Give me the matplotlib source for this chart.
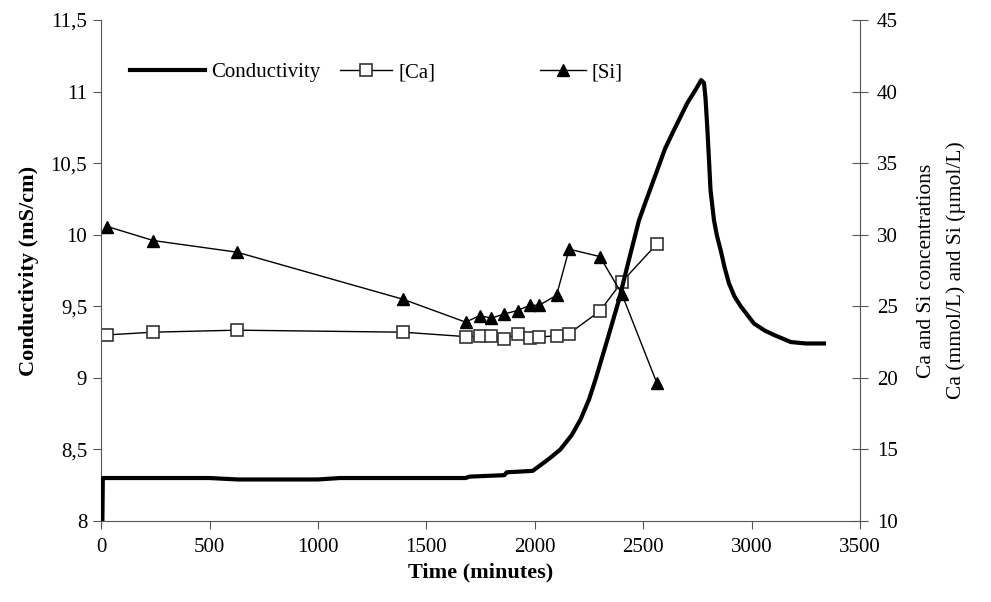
import matplotlib
matplotlib.use("Agg")
import matplotlib.pyplot as plt
from matplotlib.legend import Legend
from matplotlib.ticker import FuncFormatter

# conductivity trace (minutes, mS/cm)
cond_time = [0, 6, 8, 100, 300, 500, 630, 800, 1000, 1100, 1300, 1500, 1680,
             1700, 1860, 1870, 1990, 2026, 2070, 2118, 2170, 2211, 2250, 2280,
             2333, 2387, 2433, 2480, 2518, 2564, 2600, 2641, 2703, 2740, 2767,
             2780, 2787, 2795, 2803, 2810, 2826, 2840, 2857, 2875, 2895, 2920,
             2949, 3010, 3060, 3102, 3180, 3250, 3333]
cond_value = [8.00, 8.00, 8.30, 8.30, 8.30, 8.30, 8.29, 8.29, 8.29, 8.30, 8.30,
              8.30, 8.30, 8.31, 8.32, 8.34, 8.35, 8.39, 8.44, 8.50, 8.60, 8.71,
              8.85, 8.99, 9.26, 9.54, 9.82, 10.10, 10.26, 10.45, 10.60, 10.73,
              10.92, 11.01, 11.08, 11.06, 10.95, 10.75, 10.52, 10.31, 10.10,
              9.99, 9.89, 9.77, 9.66, 9.57, 9.50, 9.38, 9.33, 9.30, 9.25, 9.24,
              9.24]

# sampling times and concentrations
sample_time = [29, 241, 626, 1392, 1681, 1746, 1800, 1860, 1920, 1977, 2020,
               2100, 2158, 2300, 2401, 2563]
ca_conc = [23.0, 23.19, 23.33, 23.19, 22.88, 22.93, 22.93, 22.72, 23.05, 22.81,
           22.86, 22.93, 23.09, 24.67, 26.70, 29.36]
si_conc = [30.57, 29.59, 28.78, 25.49, 23.89, 24.35, 24.17, 24.47, 24.70, 25.07,
           25.07, 25.77, 28.99, 28.47, 25.86, 19.62]

plt.rcParams['font.family'] = ['Liberation Serif', 'DejaVu Serif']
plt.rcParams['font.size'] = 15

fig = plt.figure(figsize=(9.91, 6.02), dpi=100)
ax = fig.add_axes([0.102, 0.1346, 0.766, 0.8322])
ax2 = ax.twinx()

axis_color = '#555555'

line_c, = ax.plot(cond_time, cond_value, color='black', lw=3, solid_joinstyle='round',
                  label='Conductivity', zorder=3)
line_ca, = ax2.plot(sample_time, ca_conc, color='black', lw=1, marker='s', ms=8,
                    mfc='white', mec='#333333', mew=1.2, label='[Ca]')
line_si, = ax2.plot(sample_time, si_conc, color='black', lw=1, marker='^', ms=8,
                    mfc='black', mec='black', label='[Si]')

ax.set_xlim(0, 3500)
ax.set_ylim(8, 11.5)
ax2.set_ylim(10, 45)
ax.set_xticks(range(0, 3501, 500))
ax.set_yticks([8 + 0.5 * i for i in range(8)])
ax2.set_yticks(range(10, 46, 5))

comma = FuncFormatter(lambda v, p: ('%g' % v).replace('.', ','))
ax.yaxis.set_major_formatter(comma)

for a in (ax, ax2):
    a.spines['top'].set_visible(False)
    for s in a.spines.values():
        s.set_color(axis_color)
ax.spines['right'].set_visible(False)
ax2.spines['left'].set_visible(False)
ax2.spines['bottom'].set_visible(False)

ax.tick_params(axis='x', direction='out', length=6, color=axis_color, pad=6,
               labelsize=15)
ax.tick_params(axis='y', direction='out', length=6, color=axis_color, pad=4,
               labelsize=15)
ax2.tick_params(axis='y', direction='inout', length=12, color=axis_color, pad=6,
                labelsize=15)

ax.set_xlabel('Time (minutes)', fontweight='bold', fontsize=16, labelpad=4)
ax.set_ylabel('Conductivity (mS/cm)', fontweight='bold', fontsize=16, labelpad=8)
ax2.set_ylabel('Ca and Si concentrations\nCa (mmol/L) and Si (\u00b5mol/L)',
               fontsize=15.5, labelpad=14, linespacing=1.7)

ax.set_zorder(ax2.get_zorder() + 1)
ax.patch.set_visible(False)

# Excel-style legend: three separate entries along one row
entries = [(line_c, 'Conductivity', 0.038, 3.6),
           (line_ca, '[Ca]', 0.315, 2.5),
           (line_si, '[Si]', 0.578, 2.2)]
for handle, text, xpos, hlen in entries:
    leg = Legend(ax, [handle], [text], loc='center left', bbox_to_anchor=(xpos, 0.895),
                 frameon=False, borderpad=0, borderaxespad=0,
                 handlelength=hlen, handletextpad=0.3, fontsize=15)
    ax.add_artist(leg)

fig.savefig('out.png', dpi=100)
